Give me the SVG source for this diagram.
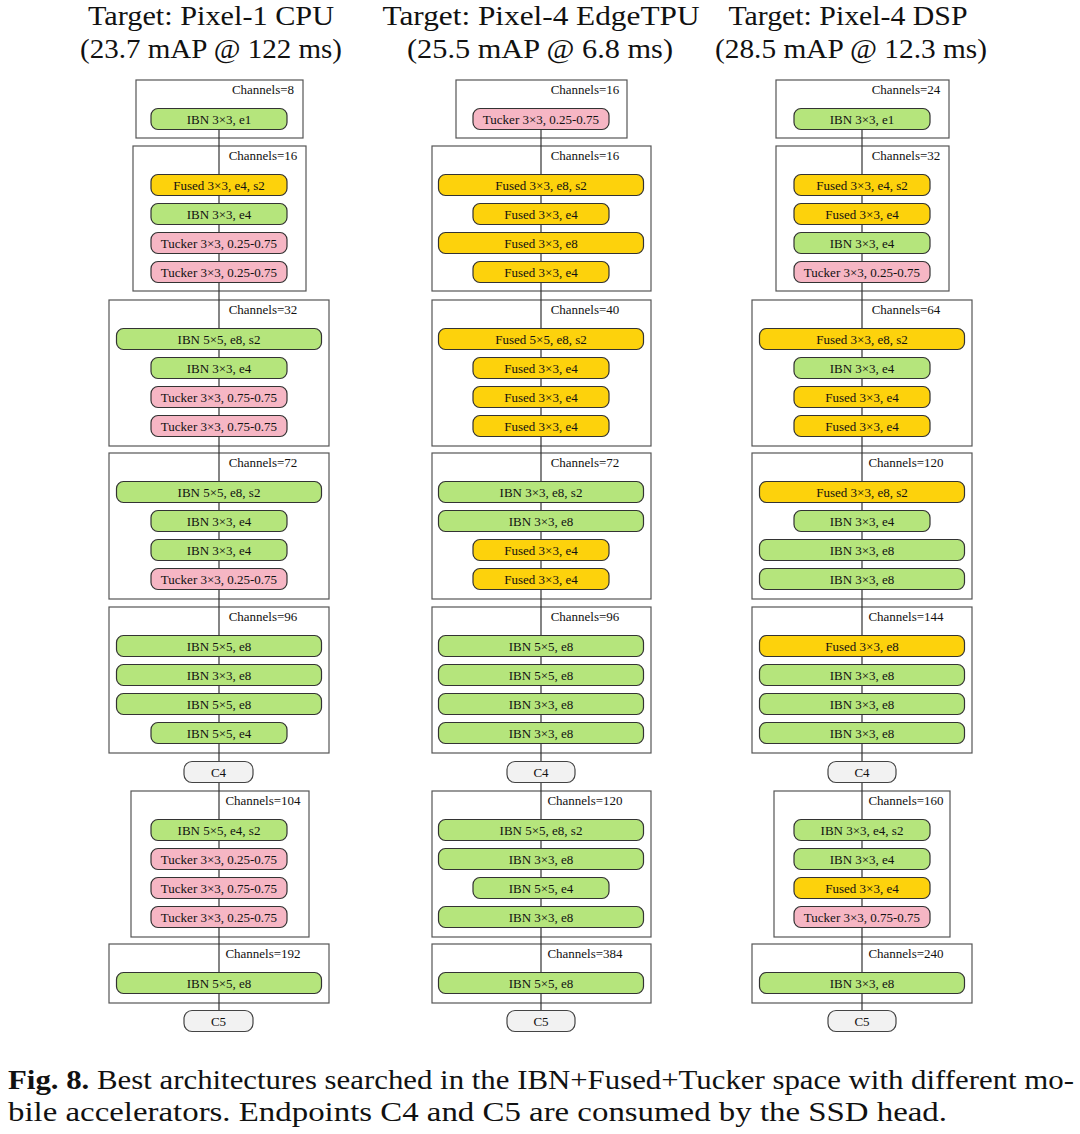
<svg xmlns="http://www.w3.org/2000/svg" width="1080" height="1134" viewBox="0 0 1080 1134">
<style>
.bg{fill:#ffffff}
.blk{fill:#ffffff;stroke:#555555;stroke-width:1.2}
.n{stroke:#333333;stroke-width:1.2}
.g{fill:#b5e57c}
.y{fill:#fdd20c}
.p{fill:#f6b6c4}
.e{fill:#f2f2f2;stroke:#444444;stroke-width:1.2}
.t{font-family:"Liberation Serif","Times New Roman",serif;font-size:13px;fill:#111111;text-anchor:middle}
.ch{font-family:"Liberation Serif","Times New Roman",serif;font-size:13px;fill:#111111;text-anchor:middle}
.h{font-family:"Liberation Serif","Times New Roman",serif;font-size:27px;fill:#111111;text-anchor:middle}
.cap{font-family:"Liberation Serif","Times New Roman",serif;font-size:27px;fill:#111111}
.ln{stroke:#333333;stroke-width:1.2;fill:none}
</style>
<rect class="bg" x="0" y="0" width="1080" height="1134"/>
<g id="headers">
<text class="h" x="211" y="25" textLength="246" lengthAdjust="spacingAndGlyphs">Target: Pixel-1 CPU</text>
<text class="h" x="211" y="58" textLength="262" lengthAdjust="spacingAndGlyphs">(23.7 mAP @ 122 ms)</text>
<text class="h" x="541" y="25" textLength="317" lengthAdjust="spacingAndGlyphs">Target: Pixel-4 EdgeTPU</text>
<text class="h" x="540" y="58" textLength="266" lengthAdjust="spacingAndGlyphs">(25.5 mAP @ 6.8 ms)</text>
<text class="h" x="848" y="25" textLength="239" lengthAdjust="spacingAndGlyphs">Target: Pixel-4 DSP</text>
<text class="h" x="851" y="58" textLength="272" lengthAdjust="spacingAndGlyphs">(28.5 mAP @ 12.3 ms)</text>
</g>
<g id="blocks">
<g id="c1b1"><rect class="blk" x="136" y="80" width="167" height="58"/><text class="ch" x="263" y="94">Channels=8</text></g>
<g id="c1b2"><rect class="blk" x="133" y="146" width="173" height="145"/><text class="ch" x="263" y="160">Channels=16</text></g>
<g id="c1b3"><rect class="blk" x="109" y="300" width="220" height="146"/><text class="ch" x="263" y="314">Channels=32</text></g>
<g id="c1b4"><rect class="blk" x="109" y="453" width="220" height="146"/><text class="ch" x="263" y="467">Channels=72</text></g>
<g id="c1b5"><rect class="blk" x="109" y="607" width="220" height="146"/><text class="ch" x="263" y="621">Channels=96</text></g>
<g id="c1b6"><rect class="blk" x="131" y="791" width="178" height="146"/><text class="ch" x="263" y="805">Channels=104</text></g>
<g id="c1b7"><rect class="blk" x="109" y="944" width="220" height="59"/><text class="ch" x="263" y="958">Channels=192</text></g>
<g id="c2b1"><rect class="blk" x="456" y="80" width="171" height="58"/><text class="ch" x="585" y="94">Channels=16</text></g>
<g id="c2b2"><rect class="blk" x="432" y="146" width="219" height="145"/><text class="ch" x="585" y="160">Channels=16</text></g>
<g id="c2b3"><rect class="blk" x="432" y="300" width="219" height="146"/><text class="ch" x="585" y="314">Channels=40</text></g>
<g id="c2b4"><rect class="blk" x="432" y="453" width="219" height="146"/><text class="ch" x="585" y="467">Channels=72</text></g>
<g id="c2b5"><rect class="blk" x="432" y="607" width="219" height="146"/><text class="ch" x="585" y="621">Channels=96</text></g>
<g id="c2b6"><rect class="blk" x="432" y="791" width="219" height="146"/><text class="ch" x="585" y="805">Channels=120</text></g>
<g id="c2b7"><rect class="blk" x="432" y="944" width="219" height="59"/><text class="ch" x="585" y="958">Channels=384</text></g>
<g id="c3b1"><rect class="blk" x="776" y="80" width="173" height="58"/><text class="ch" x="906" y="94">Channels=24</text></g>
<g id="c3b2"><rect class="blk" x="776" y="146" width="173" height="145"/><text class="ch" x="906" y="160">Channels=32</text></g>
<g id="c3b3"><rect class="blk" x="752" y="300" width="220" height="146"/><text class="ch" x="906" y="314">Channels=64</text></g>
<g id="c3b4"><rect class="blk" x="752" y="453" width="220" height="146"/><text class="ch" x="906" y="467">Channels=120</text></g>
<g id="c3b5"><rect class="blk" x="752" y="607" width="220" height="146"/><text class="ch" x="906" y="621">Channels=144</text></g>
<g id="c3b6"><rect class="blk" x="774" y="791" width="176" height="146"/><text class="ch" x="906" y="805">Channels=160</text></g>
<g id="c3b7"><rect class="blk" x="752" y="944" width="220" height="59"/><text class="ch" x="906" y="958">Channels=240</text></g>
</g>
<g id="connectors">
<path class="ln" d="M219 129.5 V1010.5"/>
<path class="ln" d="M541 129.5 V1010.5"/>
<path class="ln" d="M862 129.5 V1010.5"/>
</g>
<g id="nodes">
<!-- column 1 -->
<g id="c1n1"><rect class="n g" x="151" y="108.5" width="136" height="21" rx="7"/><text class="t" x="219" y="123.5">IBN 3×3, e1</text></g>
<g id="c1n2"><rect class="n y" x="151" y="174.5" width="136" height="21" rx="7"/><text class="t" x="219" y="189.5">Fused 3×3, e4, s2</text></g>
<g id="c1n3"><rect class="n g" x="151" y="203.5" width="136" height="21" rx="7"/><text class="t" x="219" y="218.5">IBN 3×3, e4</text></g>
<g id="c1n4"><rect class="n p" x="151" y="232.5" width="136" height="21" rx="7"/><text class="t" x="219" y="247.5">Tucker 3×3, 0.25-0.75</text></g>
<g id="c1n5"><rect class="n p" x="151" y="261.5" width="136" height="21" rx="7"/><text class="t" x="219" y="276.5">Tucker 3×3, 0.25-0.75</text></g>
<g id="c1n6"><rect class="n g" x="116.5" y="328.5" width="205" height="21" rx="7"/><text class="t" x="219" y="343.5">IBN 5×5, e8, s2</text></g>
<g id="c1n7"><rect class="n g" x="151" y="357.5" width="136" height="21" rx="7"/><text class="t" x="219" y="372.5">IBN 3×3, e4</text></g>
<g id="c1n8"><rect class="n p" x="151" y="386.5" width="136" height="21" rx="7"/><text class="t" x="219" y="401.5">Tucker 3×3, 0.75-0.75</text></g>
<g id="c1n9"><rect class="n p" x="151" y="415.5" width="136" height="21" rx="7"/><text class="t" x="219" y="430.5">Tucker 3×3, 0.75-0.75</text></g>
<g id="c1n10"><rect class="n g" x="116.5" y="481.5" width="205" height="21" rx="7"/><text class="t" x="219" y="496.5">IBN 5×5, e8, s2</text></g>
<g id="c1n11"><rect class="n g" x="151" y="510.5" width="136" height="21" rx="7"/><text class="t" x="219" y="525.5">IBN 3×3, e4</text></g>
<g id="c1n12"><rect class="n g" x="151" y="539.5" width="136" height="21" rx="7"/><text class="t" x="219" y="554.5">IBN 3×3, e4</text></g>
<g id="c1n13"><rect class="n p" x="151" y="568.5" width="136" height="21" rx="7"/><text class="t" x="219" y="583.5">Tucker 3×3, 0.25-0.75</text></g>
<g id="c1n14"><rect class="n g" x="116.5" y="635.5" width="205" height="21" rx="7"/><text class="t" x="219" y="650.5">IBN 5×5, e8</text></g>
<g id="c1n15"><rect class="n g" x="116.5" y="664.5" width="205" height="21" rx="7"/><text class="t" x="219" y="679.5">IBN 3×3, e8</text></g>
<g id="c1n16"><rect class="n g" x="116.5" y="693.5" width="205" height="21" rx="7"/><text class="t" x="219" y="708.5">IBN 5×5, e8</text></g>
<g id="c1n17"><rect class="n g" x="151" y="722.5" width="136" height="21" rx="7"/><text class="t" x="219" y="737.5">IBN 5×5, e4</text></g>
<g id="c1c4"><rect class="e" x="184" y="761.5" width="69" height="21" rx="8"/><text class="t" x="218.5" y="776.5">C4</text></g>
<g id="c1n18"><rect class="n g" x="151" y="819.5" width="136" height="21" rx="7"/><text class="t" x="219" y="834.5">IBN 5×5, e4, s2</text></g>
<g id="c1n19"><rect class="n p" x="151" y="848.5" width="136" height="21" rx="7"/><text class="t" x="219" y="863.5">Tucker 3×3, 0.25-0.75</text></g>
<g id="c1n20"><rect class="n p" x="151" y="877.5" width="136" height="21" rx="7"/><text class="t" x="219" y="892.5">Tucker 3×3, 0.75-0.75</text></g>
<g id="c1n21"><rect class="n p" x="151" y="906.5" width="136" height="21" rx="7"/><text class="t" x="219" y="921.5">Tucker 3×3, 0.25-0.75</text></g>
<g id="c1n22"><rect class="n g" x="116.5" y="972.5" width="205" height="21" rx="7"/><text class="t" x="219" y="987.5">IBN 5×5, e8</text></g>
<g id="c1c5"><rect class="e" x="184" y="1010.5" width="69" height="21" rx="8"/><text class="t" x="218.5" y="1025.5">C5</text></g>
<!-- column 2 -->
<g id="c2n1"><rect class="n p" x="473" y="108.5" width="136" height="21" rx="7"/><text class="t" x="541" y="123.5">Tucker 3×3, 0.25-0.75</text></g>
<g id="c2n2"><rect class="n y" x="438.5" y="174.5" width="205" height="21" rx="7"/><text class="t" x="541" y="189.5">Fused 3×3, e8, s2</text></g>
<g id="c2n3"><rect class="n y" x="473" y="203.5" width="136" height="21" rx="7"/><text class="t" x="541" y="218.5">Fused 3×3, e4</text></g>
<g id="c2n4"><rect class="n y" x="438.5" y="232.5" width="205" height="21" rx="7"/><text class="t" x="541" y="247.5">Fused 3×3, e8</text></g>
<g id="c2n5"><rect class="n y" x="473" y="261.5" width="136" height="21" rx="7"/><text class="t" x="541" y="276.5">Fused 3×3, e4</text></g>
<g id="c2n6"><rect class="n y" x="438.5" y="328.5" width="205" height="21" rx="7"/><text class="t" x="541" y="343.5">Fused 5×5, e8, s2</text></g>
<g id="c2n7"><rect class="n y" x="473" y="357.5" width="136" height="21" rx="7"/><text class="t" x="541" y="372.5">Fused 3×3, e4</text></g>
<g id="c2n8"><rect class="n y" x="473" y="386.5" width="136" height="21" rx="7"/><text class="t" x="541" y="401.5">Fused 3×3, e4</text></g>
<g id="c2n9"><rect class="n y" x="473" y="415.5" width="136" height="21" rx="7"/><text class="t" x="541" y="430.5">Fused 3×3, e4</text></g>
<g id="c2n10"><rect class="n g" x="438.5" y="481.5" width="205" height="21" rx="7"/><text class="t" x="541" y="496.5">IBN 3×3, e8, s2</text></g>
<g id="c2n11"><rect class="n g" x="438.5" y="510.5" width="205" height="21" rx="7"/><text class="t" x="541" y="525.5">IBN 3×3, e8</text></g>
<g id="c2n12"><rect class="n y" x="473" y="539.5" width="136" height="21" rx="7"/><text class="t" x="541" y="554.5">Fused 3×3, e4</text></g>
<g id="c2n13"><rect class="n y" x="473" y="568.5" width="136" height="21" rx="7"/><text class="t" x="541" y="583.5">Fused 3×3, e4</text></g>
<g id="c2n14"><rect class="n g" x="438.5" y="635.5" width="205" height="21" rx="7"/><text class="t" x="541" y="650.5">IBN 5×5, e8</text></g>
<g id="c2n15"><rect class="n g" x="438.5" y="664.5" width="205" height="21" rx="7"/><text class="t" x="541" y="679.5">IBN 5×5, e8</text></g>
<g id="c2n16"><rect class="n g" x="438.5" y="693.5" width="205" height="21" rx="7"/><text class="t" x="541" y="708.5">IBN 3×3, e8</text></g>
<g id="c2n17"><rect class="n g" x="438.5" y="722.5" width="205" height="21" rx="7"/><text class="t" x="541" y="737.5">IBN 3×3, e8</text></g>
<g id="c2c4"><rect class="e" x="507" y="761.5" width="68" height="21" rx="8"/><text class="t" x="541" y="776.5">C4</text></g>
<g id="c2n18"><rect class="n g" x="438.5" y="819.5" width="205" height="21" rx="7"/><text class="t" x="541" y="834.5">IBN 5×5, e8, s2</text></g>
<g id="c2n19"><rect class="n g" x="438.5" y="848.5" width="205" height="21" rx="7"/><text class="t" x="541" y="863.5">IBN 3×3, e8</text></g>
<g id="c2n20"><rect class="n g" x="473" y="877.5" width="136" height="21" rx="7"/><text class="t" x="541" y="892.5">IBN 5×5, e4</text></g>
<g id="c2n21"><rect class="n g" x="438.5" y="906.5" width="205" height="21" rx="7"/><text class="t" x="541" y="921.5">IBN 3×3, e8</text></g>
<g id="c2n22"><rect class="n g" x="438.5" y="972.5" width="205" height="21" rx="7"/><text class="t" x="541" y="987.5">IBN 5×5, e8</text></g>
<g id="c2c5"><rect class="e" x="507" y="1010.5" width="68" height="21" rx="8"/><text class="t" x="541" y="1025.5">C5</text></g>
<!-- column 3 -->
<g id="c3n1"><rect class="n g" x="794" y="108.5" width="136" height="21" rx="7"/><text class="t" x="862" y="123.5">IBN 3×3, e1</text></g>
<g id="c3n2"><rect class="n y" x="794" y="174.5" width="136" height="21" rx="7"/><text class="t" x="862" y="189.5">Fused 3×3, e4, s2</text></g>
<g id="c3n3"><rect class="n y" x="794" y="203.5" width="136" height="21" rx="7"/><text class="t" x="862" y="218.5">Fused 3×3, e4</text></g>
<g id="c3n4"><rect class="n g" x="794" y="232.5" width="136" height="21" rx="7"/><text class="t" x="862" y="247.5">IBN 3×3, e4</text></g>
<g id="c3n5"><rect class="n p" x="794" y="261.5" width="136" height="21" rx="7"/><text class="t" x="862" y="276.5">Tucker 3×3, 0.25-0.75</text></g>
<g id="c3n6"><rect class="n y" x="759.5" y="328.5" width="205" height="21" rx="7"/><text class="t" x="862" y="343.5">Fused 3×3, e8, s2</text></g>
<g id="c3n7"><rect class="n g" x="794" y="357.5" width="136" height="21" rx="7"/><text class="t" x="862" y="372.5">IBN 3×3, e4</text></g>
<g id="c3n8"><rect class="n y" x="794" y="386.5" width="136" height="21" rx="7"/><text class="t" x="862" y="401.5">Fused 3×3, e4</text></g>
<g id="c3n9"><rect class="n y" x="794" y="415.5" width="136" height="21" rx="7"/><text class="t" x="862" y="430.5">Fused 3×3, e4</text></g>
<g id="c3n10"><rect class="n y" x="759.5" y="481.5" width="205" height="21" rx="7"/><text class="t" x="862" y="496.5">Fused 3×3, e8, s2</text></g>
<g id="c3n11"><rect class="n g" x="794" y="510.5" width="136" height="21" rx="7"/><text class="t" x="862" y="525.5">IBN 3×3, e4</text></g>
<g id="c3n12"><rect class="n g" x="759.5" y="539.5" width="205" height="21" rx="7"/><text class="t" x="862" y="554.5">IBN 3×3, e8</text></g>
<g id="c3n13"><rect class="n g" x="759.5" y="568.5" width="205" height="21" rx="7"/><text class="t" x="862" y="583.5">IBN 3×3, e8</text></g>
<g id="c3n14"><rect class="n y" x="759.5" y="635.5" width="205" height="21" rx="7"/><text class="t" x="862" y="650.5">Fused 3×3, e8</text></g>
<g id="c3n15"><rect class="n g" x="759.5" y="664.5" width="205" height="21" rx="7"/><text class="t" x="862" y="679.5">IBN 3×3, e8</text></g>
<g id="c3n16"><rect class="n g" x="759.5" y="693.5" width="205" height="21" rx="7"/><text class="t" x="862" y="708.5">IBN 3×3, e8</text></g>
<g id="c3n17"><rect class="n g" x="759.5" y="722.5" width="205" height="21" rx="7"/><text class="t" x="862" y="737.5">IBN 3×3, e8</text></g>
<g id="c3c4"><rect class="e" x="828" y="761.5" width="68" height="21" rx="8"/><text class="t" x="862" y="776.5">C4</text></g>
<g id="c3n18"><rect class="n g" x="794" y="819.5" width="136" height="21" rx="7"/><text class="t" x="862" y="834.5">IBN 3×3, e4, s2</text></g>
<g id="c3n19"><rect class="n g" x="794" y="848.5" width="136" height="21" rx="7"/><text class="t" x="862" y="863.5">IBN 3×3, e4</text></g>
<g id="c3n20"><rect class="n y" x="794" y="877.5" width="136" height="21" rx="7"/><text class="t" x="862" y="892.5">Fused 3×3, e4</text></g>
<g id="c3n21"><rect class="n p" x="794" y="906.5" width="136" height="21" rx="7"/><text class="t" x="862" y="921.5">Tucker 3×3, 0.75-0.75</text></g>
<g id="c3n22"><rect class="n g" x="759.5" y="972.5" width="205" height="21" rx="7"/><text class="t" x="862" y="987.5">IBN 3×3, e8</text></g>
<g id="c3c5"><rect class="e" x="828" y="1010.5" width="68" height="21" rx="8"/><text class="t" x="862" y="1025.5">C5</text></g>
</g>
<g id="caption">
<text class="cap" x="8" y="1089" textLength="1066" lengthAdjust="spacingAndGlyphs"><tspan font-weight="bold">Fig. 8.</tspan> Best architectures searched in the IBN+Fused+Tucker space with different mo-</text>
<text class="cap" x="8" y="1121" textLength="939" lengthAdjust="spacingAndGlyphs">bile accelerators. Endpoints C4 and C5 are consumed by the SSD head.</text>
</g>
</svg>
